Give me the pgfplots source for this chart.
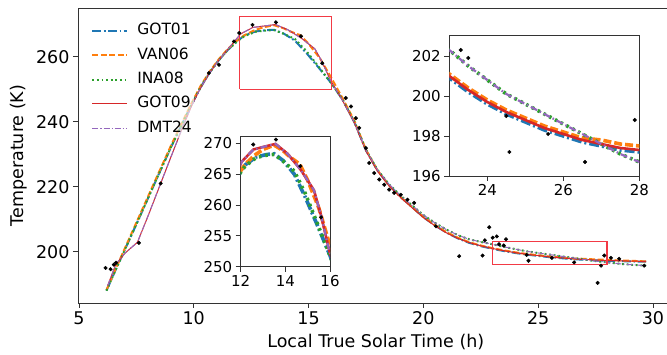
\documentclass[border=0pt]{standalone}
\usepackage{fontspec}
\setmainfont{DejaVu Sans}
\usepackage{pgfplots}
\usepackage{pgfplotstable}
\pgfplotsset{compat=1.18}

\definecolor{cBlue}{HTML}{1F77B4}
\definecolor{cOrange}{HTML}{FF7F0E}
\definecolor{cGreen}{HTML}{2CA02C}
\definecolor{cRed}{HTML}{D62728}
\definecolor{cPurple}{HTML}{9467BD}
\definecolor{boxRed}{HTML}{F23A45}

% ---------------- model curves (LTST in h, temperature in K) ----------------
\pgfplotstableread{
x y
6.2 188.0
6.6 194.4
7.0 200.6
7.5 208.4
8.0 216.3
8.5 224.2
9.0 232.0
9.5 239.4
9.9 245.2
10.3 250.6
10.7 255.2
11.1 259.0
11.5 262.2
11.9 264.8
12.2 266.5
12.7 267.8
13.2 268.2
13.5 268.3
13.9 267.2
14.4 265.0
14.9 261.2
15.4 257.0
16.0 251.8
16.5 246.6
17.0 239.8
17.5 231.2
18.0 225.0
18.5 220.5
19.0 216.9
19.5 213.8
20.0 210.6
20.5 208.1
21.0 205.9
21.5 204.1
22.0 202.7
22.5 201.7
23.0 200.9
23.5 200.2
24.0 199.6
24.5 199.1
25.0 198.7
25.5 198.3
26.0 198.0
26.5 197.7
27.0 197.5
27.5 197.3
28.0 197.2
28.5 197.1
29.0 197.0
29.7 196.9
}\gotA

\pgfplotstableread{
x y
6.2 188.2
6.6 194.7
7.0 201.0
7.5 208.9
8.0 216.8
8.5 224.7
9.0 232.5
9.5 239.8
9.9 245.6
10.3 251.0
10.7 255.5
11.1 259.3
11.5 262.5
11.9 265.0
12.2 266.6
12.6 268.0
13.0 269.0
13.5 269.7
13.9 268.8
14.2 267.8
14.65 266.6
15.0 264.0
15.5 259.5
16.0 253.4
16.5 247.0
17.0 240.2
17.5 231.4
18.0 225.1
18.5 220.5
19.0 216.9
19.5 213.8
20.0 210.7
20.5 208.2
21.0 206.0
21.5 204.3
22.0 202.9
22.5 201.9
23.0 201.1
23.5 200.4
24.0 199.8
24.5 199.3
25.0 198.9
25.5 198.5
26.0 198.2
26.5 197.9
27.0 197.8
27.5 197.6
28.0 197.5
28.5 197.3
29.0 197.2
29.7 197.0
}\van

\pgfplotstableread{
x y
6.2 188.0
6.6 194.4
7.0 200.6
7.5 208.4
8.0 216.3
8.5 224.2
9.0 232.0
9.5 239.4
9.9 245.2
10.3 250.6
10.7 255.2
11.1 259.0
11.5 262.2
11.9 264.8
12.2 266.3
12.7 267.7
13.2 268.1
13.5 268.2
13.9 267.1
14.4 265.5
14.9 261.8
15.4 257.3
16.0 251.8
16.5 246.6
17.0 239.9
17.5 231.4
18.0 225.2
18.5 220.8
19.0 217.3
19.5 214.3
20.0 211.3
20.5 208.9
21.0 206.8
21.5 205.1
22.0 203.8
22.5 203.0
23.0 202.3
23.5 201.5
24.0 200.8
24.5 200.1
25.0 199.6
25.5 199.1
26.0 198.6
26.5 198.1
27.0 197.6
27.5 197.1
28.0 196.7
28.5 196.3
29.0 196.0
29.7 195.7
}\ina

\pgfplotstableread{
x y
6.25 189.5
6.6 196.0
7.0 199.5
7.55 202.9
8.0 210.8
8.56 221.0
9.0 229.0
9.5 238.0
9.9 244.8
10.3 250.4
10.7 255.1
11.1 259.0
11.5 262.4
12.04 267.0
12.57 269.0
13.0 269.4
13.56 269.9
14.1 268.3
14.69 265.7
15.28 262.4
15.6 258.3
15.96 252.7
16.5 246.3
17.0 239.6
17.5 231.0
18.0 224.8
18.5 220.3
19.0 216.7
19.5 213.6
20.0 210.5
20.5 208.0
21.0 205.8
21.5 204.1
22.0 202.8
22.5 201.8
23.0 201.0
23.5 200.3
24.0 199.7
24.5 199.2
25.0 198.8
25.5 198.4
26.0 198.1
26.5 197.8
27.0 197.6
27.5 197.4
28.0 197.3
28.5 197.2
29.0 197.1
29.7 197.0
}\gotB

\pgfplotstableread{
x y
6.25 189.5
6.6 196.0
7.0 199.5
7.55 202.9
8.0 210.8
8.56 221.0
9.0 229.0
9.5 238.0
9.9 244.8
10.3 250.4
10.7 255.1
11.1 259.0
11.5 262.4
12.04 267.0
12.57 269.0
13.0 269.4
13.56 269.9
14.1 268.3
14.69 265.7
15.28 262.4
15.6 258.3
15.96 252.7
16.5 246.4
17.0 239.8
17.5 231.3
18.0 225.2
18.5 220.8
19.0 217.3
19.5 214.3
20.0 211.3
20.5 208.9
21.0 206.8
21.5 205.1
22.0 203.8
22.5 203.0
23.0 202.3
23.5 201.5
24.0 200.8
24.5 200.1
25.0 199.6
25.5 199.1
26.0 198.6
26.5 198.1
27.0 197.6
27.5 197.1
28.0 196.7
28.5 196.3
29.0 196.0
29.7 195.7
}\dmt

% ---------------- measurements ----------------
\pgfplotstableread{
x y
6.16 195.0
6.38 194.6
6.52 196.0
6.62 196.6
7.61 202.7
8.56 221.0
10.66 255.0
11.10 257.5
11.75 264.7
11.98 267.3
12.56 269.8
13.58 270.6
14.67 266.3
15.60 258.0
16.62 247.3
16.85 244.7
17.06 241.1
17.21 238.1
17.50 231.9
17.64 227.3
17.86 224.2
18.08 222.2
18.30 220.6
18.51 219.1
18.73 218.1
19.02 217.5
19.31 216.0
19.60 215.0
20.55 207.8
21.56 198.6
22.58 198.8
22.68 203.5
22.87 207.5
23.02 204.3
23.20 204.7
23.30 202.3
23.50 201.9
23.60 203.8
24.50 199.0
24.58 197.2
25.60 198.1
26.57 196.7
27.59 190.4
27.74 195.7
27.88 198.8
28.17 198.1
28.53 197.8
29.62 195.7
}\obs

\pgfplotsset{
  mpl/.style={
    scale only axis,
    axis line style={line width=0.9pt, black!80},
    tick style={black!80, line width=0.8pt},
    tick align=outside,
    tick pos=left,
    major tick length=5pt,
    /pgf/number format/assume math mode=true,
    /pgf/number format/1000 sep={},
  },
  sA/.style={cBlue, line width=2pt, dash pattern=on 9pt off 2.5pt on 1.8pt off 2.5pt},
  sV/.style={cOrange, line width=2pt, dash pattern=on 6pt off 2.5pt},
  sI/.style={cGreen, line width=2pt, dash pattern=on 1.8pt off 2.8pt},
  sG/.style={cRed, line width=1pt},
  sD/.style={cPurple, line width=1pt, dash pattern=on 6pt off 2pt on 1.2pt off 2pt},
  iA/.style={cBlue, line width=3.6pt, dash pattern=on 10pt off 3pt on 2pt off 3pt},
  iV/.style={cOrange, line width=3.6pt, dash pattern=on 8pt off 3pt},
  iI/.style={cGreen, line width=3.6pt, dash pattern=on 2.5pt off 4pt},
  iG/.style={cRed, line width=2.6pt},
  iD/.style={cPurple, line width=2.2pt, dash pattern=on 7pt off 3pt on 1.5pt off 3pt},
}

\begin{document}
\begin{tikzpicture}
\useasboundingbox (0,0) rectangle (667pt,355pt);

\begin{axis}[mpl,
  at={(78pt,52pt)}, anchor=south west,
  width=595.6pt, height=295pt,
  xmin=4.96, xmax=30.9, ymin=184.2, ymax=275,
  xtick={5,10,15,20,25,30}, ytick={200,220,240,260},
  ticklabel style={font=\fontsize{17.5}{20}\selectfont},
  label style={font=\fontsize{17.5}{20}\selectfont},
  xlabel={Local True Solar Time (h)},
  xlabel style={yshift=-3pt},
  ylabel={Temperature (K)},
  ylabel style={yshift=2pt},
  legend cell align=left,
  legend image code/.code={\draw[#1] (0pt,0pt) -- (35pt,0pt);},
  legend style={at={(0.022,0.955)}, anchor=north west, draw=none,
    fill=white, fill opacity=0.6, text opacity=1,
    font=\fontsize{15.5}{18}\selectfont, inner sep=0pt,
    row sep=5.3pt,
    /tikz/every odd column/.append style={column sep=7pt},
    nodes={inner sep=2pt, text height=11.5pt, text depth=3.5pt}},
]
\addplot[sA] table {\gotA};
\addlegendentry{GOT01}
\addplot[sV] table {\van};
\addlegendentry{VAN06}
\addplot[sI] table {\ina};
\addlegendentry{INA08}
\addplot[sG] table {\gotB};
\addlegendentry{GOT09}
\addplot[sD] table {\dmt};
\addlegendentry{DMT24}
\addplot[only marks, mark=*, mark size=1.8pt, black, forget plot] table {\obs};
% zoom windows
\addplot[boxRed, line width=1.1pt, forget plot] coordinates {(12,250) (16,250) (16,272.5) (12,272.5) (12,250)};
\addplot[boxRed, line width=1.1pt, forget plot] coordinates {(23,196) (28,196) (28,203.05) (23,203.05) (23,196)};
\end{axis}

% zoom on the daytime maximum
\begin{axis}[mpl,
  at={(240.7pt,88.3pt)}, anchor=south west,
  width=89.3pt, height=130pt,
  xmin=12, xmax=16, ymin=250, ymax=271.07,
  xtick={12,14,16}, ytick={250,255,260,265,270},
  ticklabel style={font=\fontsize{15}{17}\selectfont},
  axis background/.style={fill=white},
]
\addplot[iA] table {\gotA};
\addplot[iV] table {\van};
\addplot[iI] table {\ina};
\addplot[iG] table {\gotB};
\addplot[iD] table {\dmt};
\addplot[only marks, mark=*, mark size=1.8pt, black] table {\obs};
\end{axis}

% zoom on the night-time tail
\begin{axis}[mpl,
  at={(449.3pt,179pt)}, anchor=south west,
  width=190pt, height=141pt,
  xmin=23, xmax=28, ymin=196, ymax=203.05,
  xtick={24,26,28}, ytick={196,198,200,202},
  ticklabel style={font=\fontsize{15}{17}\selectfont},
  axis background/.style={fill=white},
]
\addplot[iA] table {\gotA};
\addplot[iV] table {\van};
\addplot[iI] table {\ina};
\addplot[iG] table {\gotB};
\addplot[iD] table {\dmt};
\addplot[only marks, mark=*, mark size=1.8pt, black] table {\obs};
\end{axis}
\end{tikzpicture}
\end{document}
